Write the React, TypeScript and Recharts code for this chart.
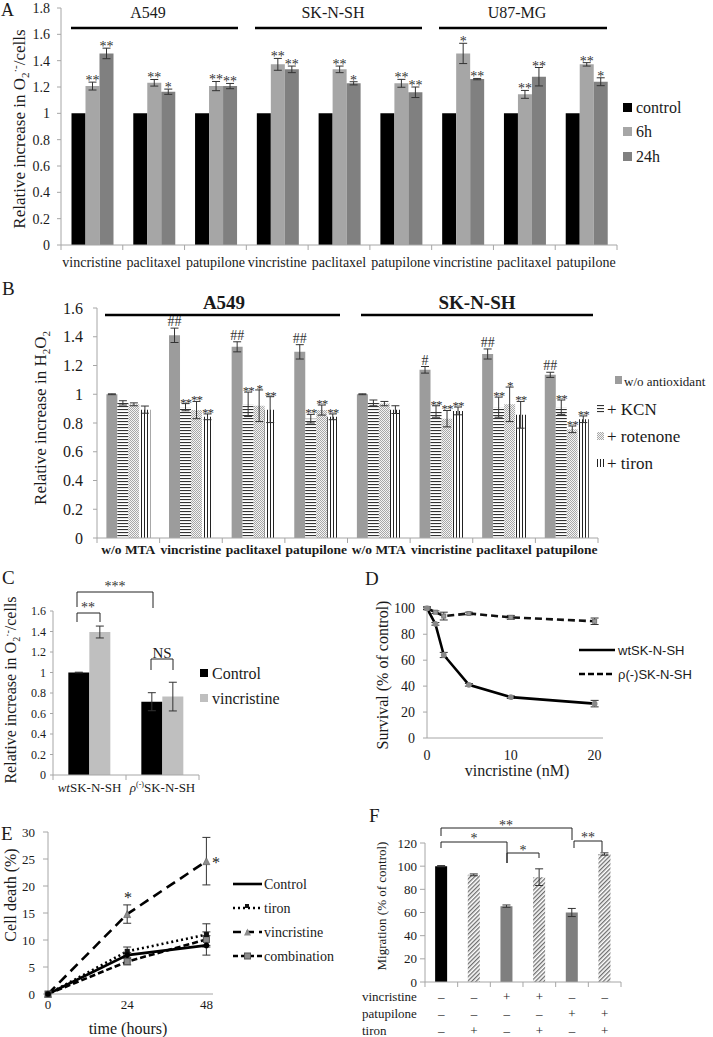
import React from "react";
import { Bar, BarChart, Cell, ErrorBar, LabelList, Line, LineChart, XAxis, YAxis } from "recharts";

const SERIF = '"Liberation Serif", "Times New Roman", serif';
const SANS = '"Liberation Sans", Arial, sans-serif';
const AX = "#a6a6a6";
const INK = "#1a1a1a";

// A: superoxide, three cell lines x three drugs
const aGroups = ["A549", "SK-N-SH", "U87-MG"];
const aCats = ["vincristine", "paclitaxel", "patupilone", "vincristine", "paclitaxel", "patupilone", "vincristine", "paclitaxel", "patupilone"];
const aSeries = ["control", "6h", "24h"];
const aCtrl = [1, 1, 1, 1, 1, 1, 1, 1, 1];
const a6h = [1.207, 1.232, 1.207, 1.372, 1.334, 1.228, 1.455, 1.144, 1.372];
const a6hErr = [0.03, 0.025, 0.035, 0.045, 0.025, 0.03, 0.077, 0.03, 0.013];
const a24h = [1.455, 1.164, 1.207, 1.334, 1.228, 1.16, 1.26, 1.278, 1.24];
const a24hErr = [0.04, 0.02, 0.02, 0.025, 0.012, 0.04, 0.005, 0.07, 0.03];
const a6hSig = ["**", "**", "**", "**", "**", "**", "*", "**", "**"];
const a24hSig = ["**", "*", "**", "**", "*", "**", "**", "**", "*"];
const aTicks = [0, 0.2, 0.4, 0.6, 0.8, 1, 1.2, 1.4, 1.6, 1.8];

// B: H2O2 with antioxidants
const bGroups = ["A549", "SK-N-SH"];
const bCats = ["w/o MTA", "vincristine", "paclitaxel", "patupilone", "w/o MTA", "vincristine", "paclitaxel", "patupilone"];
const bSeries = ["w/o antioxidant", "+ KCN", "+ rotenone", "+ tiron"];
const bNone = [1.0, 1.41, 1.33, 1.295, 1.0, 1.17, 1.28, 1.135];
const bNoneErr = [0.003, 0.05, 0.035, 0.05, 0.003, 0.023, 0.035, 0.018];
const bKcn = [0.94, 0.91, 0.93, 0.83, 0.94, 0.88, 0.91, 0.91];
const bKcnErr = [0.015, 0.025, 0.085, 0.03, 0.02, 0.04, 0.07, 0.05];
const bRot = [0.93, 0.89, 0.92, 0.89, 0.935, 0.83, 0.93, 0.756];
const bRotErr = [0.01, 0.06, 0.11, 0.035, 0.015, 0.057, 0.12, 0.023];
const bTir = [0.893, 0.843, 0.893, 0.843, 0.893, 0.884, 0.857, 0.826];
const bTirErr = [0.025, 0.02, 0.09, 0.02, 0.027, 0.027, 0.093, 0.023];
const bNoneSig = ["", "##", "##", "##", "", "#", "##", "##"];
const bKcnSig = ["", "**", "**", "**", "", "**", "**", "**"];
const bRotSig = ["", "**", "*", "**", "", "**", "*", "**"];
const bTirSig = ["", "**", "**", "**", "", "**", "**", "**"];
const bTicks = [0, 0.2, 0.4, 0.6, 0.8, 1, 1.2, 1.4, 1.6];

// C: wt vs rho(-) cells
const cCats = ["wtSK-N-SH", "ρ(-)SK-N-SH"];
const cSeries = ["Control", "vincristine"];
const cCtrl = [1.0, 0.715];
const cCtrlErr = [0.003, 0.088];
const cVin = [1.395, 0.765];
const cVinErr = [0.058, 0.14];
const cTicks = [0, 0.2, 0.4, 0.6, 0.8, 1, 1.2, 1.4, 1.6];

// D: survival vs vincristine dose
const dSeries = ["wtSK-N-SH", "ρ(-)SK-N-SH"];
const dDose = [0, 1, 2, 5, 10, 20];
const dWt = [100, 88, 64, 41, 31.5, 26.5];
const dWtErr = [1, 1, 2, 1, 1, 2.5];
const dRho = [100, 97, 94, 96, 93, 90];
const dRhoErr = [1, 1, 3, 1, 1.5, 2.5];

// E: cell death over time
const eSeries = ["Control", "tiron", "vincristine", "combination"];
const eHours = [0, 24, 48];
const eCtrl = [0, 7.2, 9.0];
const eCtrlErr = [null, 0.5, 1.8];
const eTir = [0, 7.9, 11.0];
const eTirErr = [null, 0.8, 2.0];
const eVin = [0, 14.8, 24.6];
const eVinErr = [null, 1.7, 4.4];
const eComb = [0, 6.0, 10.1];
const eCombErr = [null, 0.6, 1.4];

// F: migration
const fVals = [100, 92.5, 65.5, 90.5, 60, 110.5];
const fErr = [0.5, 0.8, 1.0, 7.2, 3.5, 1.0];
const fRows = ["vincristine", "patupilone", "tiron"];
const fVin = ["–", "–", "+", "+", "–", "–"];
const fPat = ["–", "–", "–", "–", "+", "+"];
const fTir = ["–", "+", "–", "+", "–", "+"];
const fFill = ["#000", "url(#hatch)", "#7f7f7f", "url(#hatch)", "#7f7f7f", "url(#hatch)"];

const aData = aCats.map((c, i) => ({ key: String(i), ctrl: aCtrl[i], h6: a6h[i], h6e: a6hErr[i], h24: a24h[i], h24e: a24hErr[i] }));
const bData = bCats.map((c, i) => ({
  key: String(i), none: bNone[i], noneE: bNoneErr[i], kcn: bKcn[i], kcnE: bKcnErr[i],
  rot: bRot[i], rotE: bRotErr[i], tir: bTir[i], tirE: bTirErr[i],
}));
const cData = cCats.map((c, i) => ({ key: c, ctrl: cCtrl[i], ctrlE: cCtrlErr[i], vin: cVin[i], vinE: cVinErr[i] }));
const dData = dDose.map((x, i) => ({ x, wt: dWt[i], wtE: dWtErr[i], rho: dRho[i], rhoE: dRhoErr[i] }));
const eData = eHours.map((x, i) => ({
  x, ctrl: eCtrl[i], ctrlE: eCtrlErr[i], tir: eTir[i], tirE: eTirErr[i],
  vin: eVin[i], vinE: eVinErr[i], comb: eComb[i], combE: eCombErr[i],
}));
const fData = fVals.map((v, i) => ({ key: String(i), v, e: fErr[i] }));

const at = (left: number, top: number): React.CSSProperties => ({ position: "absolute", left, top });

// star / hash marks above the error bar of each bar
function sigLabel(sig: string[], vals: number[], errs: number[], fs = 14, ls = 0) {
  return (p: any) => {
    const vb = p.viewBox ?? p;
    const i = p.index;
    const t = sig[i];
    if (!t) return null;
    const top = vb.y - (errs[i] * vb.height) / vals[i];
    const base = t[0] === "#" ? top - 2 : top + 3;
    return (
      <text x={vb.x + vb.width / 2} y={base} textAnchor="middle" fontSize={fs} letterSpacing={ls} fill="#333">
        {t}
      </text>
    );
  };
}

// excel-like category ticks: marks between categories, label in the middle
function bandTick(labels: string[], bw: number, fs: number, dy: number, bold = false) {
  const n = labels.length;
  return (p: any) => {
    const i = p.index;
    return (
      <g>
        <line x1={p.x - bw / 2} x2={p.x - bw / 2} y1={p.y} y2={p.y + 5} stroke={AX} />
        {i === n - 1 ? <line x1={p.x + bw / 2} x2={p.x + bw / 2} y1={p.y} y2={p.y + 5} stroke={AX} /> : null}
        <text x={p.x} y={p.y + dy} textAnchor="middle" fontSize={fs} fontWeight={bold ? 700 : 400} fill={INK}>
          {labels[i]}
        </text>
      </g>
    );
  };
}

const cTick = (p: any) => {
  const i = p.index;
  const lab = cCats[i];
  const bw = 73;
  return (
    <g>
      <line x1={p.x - bw / 2} x2={p.x - bw / 2} y1={p.y} y2={p.y + 5} stroke={AX} />
      {i === cCats.length - 1 ? <line x1={p.x + bw / 2} x2={p.x + bw / 2} y1={p.y} y2={p.y + 5} stroke={AX} /> : null}
      {lab.startsWith("wt") ? (
        <text x={p.x} y={p.y + 17} textAnchor="middle" fontSize={13} fill={INK}>
          <tspan fontStyle="italic">wt</tspan>{lab.slice(2)}
        </text>
      ) : (
        <text x={p.x} y={p.y + 17} textAnchor="middle" fontSize={13} fill={INK}>
          <tspan fontStyle="italic">{lab.slice(0, 1)}</tspan>
          <tspan fontSize={8} dy={-5}>{lab.slice(1, 4)}</tspan>
          <tspan dy={5}>{lab.slice(4)}</tspan>
        </text>
      )}
    </g>
  );
};

const fTick = (p: any) => {
  const i = p.index;
  const bw = 32.67;
  const rows = [fVin, fPat, fTir];
  return (
    <g>
      <line x1={p.x - bw / 2} x2={p.x - bw / 2} y1={p.y} y2={p.y + 5} stroke={AX} />
      {i === fVals.length - 1 ? <line x1={p.x + bw / 2} x2={p.x + bw / 2} y1={p.y} y2={p.y + 5} stroke={AX} /> : null}
      {rows.map((r, k) => (
        <text key={k} x={p.x} y={p.y + 18.5 + k * 17} textAnchor="middle" fontSize={13} fill={INK}>
          {r[i]}
        </text>
      ))}
      {i === 0
        ? fRows.map((r, k) => (
            <text key={"r" + k} x={2} y={p.y + 18.5 + k * 17} fontSize={13} fill={INK}>
              {r}
            </text>
          ))
        : null}
    </g>
  );
};

const sq = (fill: string, stroke: string, s: number) => (p: any) =>
  p.cx == null ? null : (
    <rect key={p.index} x={p.cx - s / 2} y={p.cy - s / 2} width={s} height={s} fill={fill} stroke={stroke} strokeWidth={1} />
  );
const tri = (fill: string, s: number) => (p: any) =>
  p.cx == null ? null : (
    <path key={p.index} d={`M${p.cx},${p.cy - s / 2} L${p.cx + s / 2},${p.cy + s / 2} L${p.cx - s / 2},${p.cy + s / 2} Z`} fill={fill} stroke="#555" strokeWidth={0.6} />
  );

const yTick = (fs: number) => ({ fontSize: fs, fill: INK });

export default function App() {
  const aBw = (713 - 96 - 61) / 9;
  const bBw = (713 - 115 - 97) / 8;
  const aFill = ["#000", "#a6a6a6", "#808080"];
  const bFill = ["#9c9c9c", "url(#hlines)", "url(#dots)", "url(#vlines)"];
  return (
    <div style={{ position: "absolute", left: 0, top: 0, width: 713, height: 1037, overflow: "hidden", background: "#fff", fontFamily: SERIF, color: INK }}>
      <svg width={0} height={0} style={{ position: "absolute" }}>
        <defs>
          <pattern id="hlines" patternUnits="userSpaceOnUse" width={4} height={3}>
            <rect width={4} height={3} fill="#fff" />
            <rect y={0} width={4} height={1.1} fill="#333" />
          </pattern>
          <pattern id="vlines" patternUnits="userSpaceOnUse" width={3} height={4}>
            <rect width={3} height={4} fill="#fff" />
            <rect x={0} width={1} height={4} fill="#222" />
          </pattern>
          <pattern id="dots" patternUnits="userSpaceOnUse" width={2} height={2}>
            <rect width={2} height={2} fill="#f4f4f4" />
            <rect width={1} height={1} fill="#a8a8a8" />
            <rect x={1} y={1} width={1} height={1} fill="#a8a8a8" />
          </pattern>
          <pattern id="hatch" patternUnits="userSpaceOnUse" width={3} height={3} patternTransform="rotate(45)">
            <rect width={3} height={3} fill="#fff" />
            <rect x={0} width={1.3} height={3} fill="#6e6e6e" />
          </pattern>
        </defs>
      </svg>

      {/* A */}
      <div style={at(0, 0)}>
        <BarChart width={713} height={275} data={aData} margin={{ top: 8, right: 96, bottom: 0, left: 0 }} barCategoryGap="17%" barGap={0}>
          <XAxis dataKey="key" height={30} interval={0} tickSize={0} tickMargin={0} stroke={AX} tick={bandTick(aCats, aBw, 14, 22)} />
          <YAxis width={61} domain={[0, 1.8]} ticks={aTicks} interval={0} stroke={AX} tickSize={4} tickMargin={7} tick={yTick(14)} />
          <Bar dataKey="ctrl" fill={aFill[0]} isAnimationActive={false} />
          <Bar dataKey="h6" fill={aFill[1]} isAnimationActive={false}>
            <ErrorBar dataKey="h6e" width={4} stroke="#333" strokeWidth={1} />
            <LabelList dataKey="h6" content={sigLabel(a6hSig, a6h, a6hErr)} />
          </Bar>
          <Bar dataKey="h24" fill={aFill[2]} isAnimationActive={false}>
            <ErrorBar dataKey="h24e" width={4} stroke="#333" strokeWidth={1} />
            <LabelList dataKey="h24" content={sigLabel(a24hSig, a24h, a24hErr)} />
          </Bar>
        </BarChart>
      </div>

      {/* B */}
      <div style={at(0, 280)}>
        <BarChart width={713} height={280} data={bData} margin={{ top: 28, right: 115, bottom: 0, left: 0 }} barCategoryGap="15%" barGap={0}>
          <XAxis dataKey="key" height={22} interval={0} tickSize={0} tickMargin={0} stroke={AX} tick={bandTick(bCats, bBw, 13.5, 16, true)} />
          <YAxis width={97} domain={[0, 1.6]} ticks={bTicks} interval={0} stroke={AX} tickSize={4} tickMargin={10} tick={yTick(16)} />
          <Bar dataKey="none" fill={bFill[0]} isAnimationActive={false}>
            <ErrorBar dataKey="noneE" width={4} stroke="#333" strokeWidth={1} />
            <LabelList dataKey="none" content={sigLabel(bNoneSig, bNone, bNoneErr, 14)} />
          </Bar>
          <Bar dataKey="kcn" fill={bFill[1]} isAnimationActive={false}>
            <ErrorBar dataKey="kcnE" width={4} stroke="#333" strokeWidth={1} />
            <LabelList dataKey="kcn" content={sigLabel(bKcnSig, bKcn, bKcnErr, 13, -1)} />
          </Bar>
          <Bar dataKey="rot" fill={bFill[2]} isAnimationActive={false}>
            <ErrorBar dataKey="rotE" width={4} stroke="#333" strokeWidth={1} />
            <LabelList dataKey="rot" content={sigLabel(bRotSig, bRot, bRotErr, 13, -1)} />
          </Bar>
          <Bar dataKey="tir" fill={bFill[3]} isAnimationActive={false}>
            <ErrorBar dataKey="tirE" width={4} stroke="#333" strokeWidth={1} />
            <LabelList dataKey="tir" content={sigLabel(bTirSig, bTir, bTirErr, 13, -1)} />
          </Bar>
        </BarChart>
      </div>

      {/* C */}
      <div style={at(0, 595)}>
        <BarChart width={230} height={200} data={cData} margin={{ top: 16, right: 31, bottom: 0, left: 0 }} barCategoryGap="21%" barGap={0}>
          <XAxis dataKey="key" height={20} interval={0} tickSize={0} tickMargin={0} stroke={AX} tick={cTick} />
          <YAxis width={53} domain={[0, 1.6]} ticks={cTicks} interval={0} stroke={AX} tickSize={3} tickMargin={4} tick={yTick(12)} />
          <Bar dataKey="ctrl" fill="#000" isAnimationActive={false}>
            <ErrorBar dataKey="ctrlE" width={4} stroke="#333" strokeWidth={1} />
          </Bar>
          <Bar dataKey="vin" fill="#bfbfbf" isAnimationActive={false}>
            <ErrorBar dataKey="vinE" width={4} stroke="#333" strokeWidth={1} />
          </Bar>
        </BarChart>
      </div>

      {/* D */}
      <div style={at(360, 590)}>
        <LineChart width={250} height={193} data={dData} margin={{ top: 17, right: 7, bottom: 0, left: 0 }}>
          <XAxis dataKey="x" type="number" domain={[0, 21]} ticks={[0, 10, 20]} height={45} stroke={AX} tickLine={false} tickSize={0} tickMargin={12} tick={yTick(14)} />
          <YAxis width={67} domain={[0, 100]} ticks={[0, 20, 40, 60, 80, 100]} interval={0} stroke={AX} tickSize={4} tickMargin={8} tick={yTick(14)} />
          <Line dataKey="rho" stroke="#111" strokeWidth={2.6} strokeDasharray="7 4" dot={sq("#999", "#777", 4)} isAnimationActive={false}>
            <ErrorBar dataKey="rhoE" width={4} stroke="#333" strokeWidth={1} direction="y" />
          </Line>
          <Line dataKey="wt" stroke="#000" strokeWidth={2.6} dot={{ r: 1.6, fill: "#888", stroke: "#888" }} isAnimationActive={false}>
            <ErrorBar dataKey="wtE" width={4} stroke="#333" strokeWidth={1} direction="y" />
          </Line>
        </LineChart>
      </div>

      {/* E */}
      <div style={at(0, 815)}>
        <LineChart width={225} height={221} data={eData} margin={{ top: 17, right: 12, bottom: 0, left: 0 }}>
          <XAxis dataKey="x" type="number" domain={[0, 50]} ticks={[0, 24, 48]} height={42} stroke={AX} tickLine={false} tickSize={0} tickMargin={6} tick={yTick(13)} />
          <YAxis width={48} domain={[0, 30]} ticks={[0, 5, 10, 15, 20, 25, 30]} interval={0} stroke={AX} tickSize={5} tickMargin={8} tick={yTick(13)} />
          <Line dataKey="vin" stroke="#000" strokeWidth={2.6} strokeDasharray="10 6" dot={tri("#8c8c8c", 7)} isAnimationActive={false}>
            <ErrorBar dataKey="vinE" width={4} stroke="#333" strokeWidth={1} direction="y" />
          </Line>
          <Line dataKey="comb" stroke="#000" strokeWidth={2.6} strokeDasharray="6 3" dot={sq("#8c8c8c", "#555", 6)} isAnimationActive={false}>
            <ErrorBar dataKey="combE" width={4} stroke="#333" strokeWidth={1} direction="y" />
          </Line>
          <Line dataKey="tir" stroke="#000" strokeWidth={2.6} strokeDasharray="2 3" dot={sq("#111", "#111", 4)} isAnimationActive={false}>
            <ErrorBar dataKey="tirE" width={4} stroke="#333" strokeWidth={1} direction="y" />
          </Line>
          <Line dataKey="ctrl" stroke="#000" strokeWidth={2.6} dot={{ r: 1.5, fill: "#000" }} isAnimationActive={false}>
            <ErrorBar dataKey="ctrlE" width={4} stroke="#333" strokeWidth={1} direction="y" />
          </Line>
        </LineChart>
      </div>

      {/* F */}
      <div style={at(360, 825)}>
        <BarChart width={270} height={212} data={fData} margin={{ top: 18, right: 9, bottom: 0, left: 0 }} barCategoryGap="31%">
          <XAxis dataKey="key" height={55} interval={0} tickSize={0} tickMargin={0} stroke={AX} tick={fTick} />
          <YAxis width={65} domain={[0, 120]} ticks={[0, 20, 40, 60, 80, 100, 120]} interval={0} stroke={AX} tickSize={5} tickMargin={3} tick={yTick(13)} />
          <Bar dataKey="v" isAnimationActive={false}>
            {fFill.map((f, i) => (
              <Cell key={i} fill={f} />
            ))}
            <ErrorBar dataKey="e" width={4} stroke="#333" strokeWidth={1} />
          </Bar>
        </BarChart>
      </div>

      {/* annotations, titles, legends */}
      <svg width={713} height={1037} style={{ position: "absolute", left: 0, top: 0, pointerEvents: "none" }} fontFamily={SERIF} fill={INK}>
        {/* panel letters */}
        <text x={1} y={16} fontSize={18}>A</text>
        <text x={2} y={295} fontSize={19}>B</text>
        <text x={2} y={584} fontSize={19}>C</text>
        <text x={365} y={585} fontSize={19}>D</text>
        <text x={1} y={840} fontSize={19}>E</text>
        <text x={369} y={822} fontSize={19}>F</text>

        {/* A group headers */}
        {aGroups.map((g, k) => (
          <g key={g}>
            <text x={[148, 333, 517][k]} y={18} fontSize={16} textAnchor="middle">{g}</text>
            <line x1={[71, 255, 439][k]} x2={[238, 422, 607][k]} y1={28} y2={28} stroke="#000" strokeWidth={2.5} />
          </g>
        ))}
        <text transform="translate(25,129) rotate(-90)" textAnchor="middle" fontSize={17}>
          Relative increase in O<tspan fontSize={11} dy={4}>2</tspan><tspan fontSize={11} dy={-10}>·-</tspan><tspan dy={6}>/cells</tspan>
        </text>
        {aSeries.map((s, k) => (
          <g key={s}>
            <rect x={623} y={[103, 127, 152][k]} width={9} height={9} fill={aFill[k]} />
            <text x={636} y={[112.5, 136.5, 161.5][k]} fontSize={16}>{s}</text>
          </g>
        ))}

        {/* B group headers */}
        {bGroups.map((g, k) => (
          <g key={g}>
            <text x={[224, 477][k]} y={309} fontSize={19} fontWeight={700} textAnchor="middle">{g}</text>
            <line x1={[105, 361][k]} x2={[340, 593][k]} y1={315} y2={315} stroke="#000" strokeWidth={2.5} />
          </g>
        ))}
        <text transform="translate(46,418) rotate(-90)" textAnchor="middle" fontSize={17}>
          Relative increase in H<tspan fontSize={11} dy={4}>2</tspan><tspan dy={-4}>O</tspan><tspan fontSize={11} dy={4}>2</tspan>
        </text>
        {bSeries.map((s, k) => (
          <g key={s}>
            <rect x={k === 0 ? 615 : 597} y={[376, 405, 432, 459][k]} width={7} height={8} fill={bFill[k]} />
            <text x={k === 0 ? 624 : 607} y={[385.5, 415, 442, 469][k]} fontSize={k === 0 ? 13 : 17}>{s}</text>
          </g>
        ))}

        {/* C */}
        <text transform="translate(16,690) rotate(-90)" textAnchor="middle" fontSize={16}>
          Relative increase in O<tspan fontSize={10} dy={4}>2</tspan><tspan fontSize={10} dy={-9}>·-</tspan><tspan dy={5}>/cells</tspan>
        </text>
        <g fill="none" stroke="#222" strokeWidth={1}>
          <path d="M77,607 V592 H153 V608" />
          <path d="M77,622 V613 H100 V622" />
          <path d="M151,670 V659 H173 V670" />
        </g>
        <text x={115} y={591} fontSize={14} textAnchor="middle" fill="#333">***</text>
        <text x={88} y={612} fontSize={14} textAnchor="middle" fill="#333">**</text>
        <text x={162} y={658} fontSize={15} textAnchor="middle">NS</text>
        {cSeries.map((s, k) => (
          <g key={s}>
            <rect x={200} y={[669, 694][k]} width={8} height={8} fill={["#000", "#bfbfbf"][k]} />
            <text x={212} y={[678.5, 703.5][k]} fontSize={16}>{s}</text>
          </g>
        ))}

        {/* D */}
        <text transform="translate(388,675) rotate(-90)" textAnchor="middle" fontSize={16}>Survival (% of control)</text>
        <text x={517} y={776} textAnchor="middle" fontSize={16}>vincristine (nM)</text>
        {dSeries.map((s, k) => (
          <g key={s}>
            <line x1={579} x2={615} y1={[650, 674][k]} y2={[650, 674][k]} stroke="#000" strokeWidth={2.6} strokeDasharray={k === 1 ? "6 3" : undefined} />
            <text x={618} y={[654.5, 678.5][k]} fontSize={13} fontFamily={SANS}>{s}</text>
          </g>
        ))}

        {/* E */}
        <text transform="translate(16,895) rotate(-90)" textAnchor="middle" fontSize={16}>Cell death (%)</text>
        <text x={128} y={1034} textAnchor="middle" fontSize={16}>time (hours)</text>
        <text x={128} y={903} textAnchor="middle" fontSize={16}>*</text>
        <text x={216} y={868} textAnchor="middle" fontSize={16}>*</text>
        {eSeries.map((s, k) => (
          <g key={s}>
            <line x1={233} x2={262} y1={884 + k * 24} y2={884 + k * 24} stroke="#000" strokeWidth={2.6} strokeDasharray={[undefined, "2 3", "8 5", "5 3"][k]} />
            {k === 1 ? <rect x={245} y={882 + k * 24 - 2} width={4} height={4} fill="#111" /> : null}
            {k === 2 ? <path d={`M247.5,${884 + k * 24 - 3.5} l3.5,7 h-7 z`} fill="#8c8c8c" /> : null}
            {k === 3 ? <rect x={244.5} y={884 + k * 24 - 3} width={6} height={6} fill="#8c8c8c" stroke="#555" /> : null}
            <text x={264} y={889 + k * 24} fontSize={14}>{s}</text>
          </g>
        ))}

        {/* F */}
        <text transform="translate(386,906) rotate(-90)" textAnchor="middle" fontSize={13}>Migration (% of control)</text>
        <g fill="none" stroke="#222" strokeWidth={1}>
          <path d="M441,836 V828 H572 V840" />
          <path d="M441,848 V842 H507 V863" />
          <path d="M507,863 V853 H539 V858" />
          <path d="M574,848 V841 H602 V852" />
        </g>
        <text x={506} y={830} fontSize={14} textAnchor="middle" fill="#333">**</text>
        <text x={474} y={843} fontSize={14} textAnchor="middle" fill="#333">*</text>
        <text x={523} y={855} fontSize={14} textAnchor="middle" fill="#333">*</text>
        <text x={588} y={842} fontSize={14} textAnchor="middle" fill="#333">**</text>
      </svg>
    </div>
  );
}
